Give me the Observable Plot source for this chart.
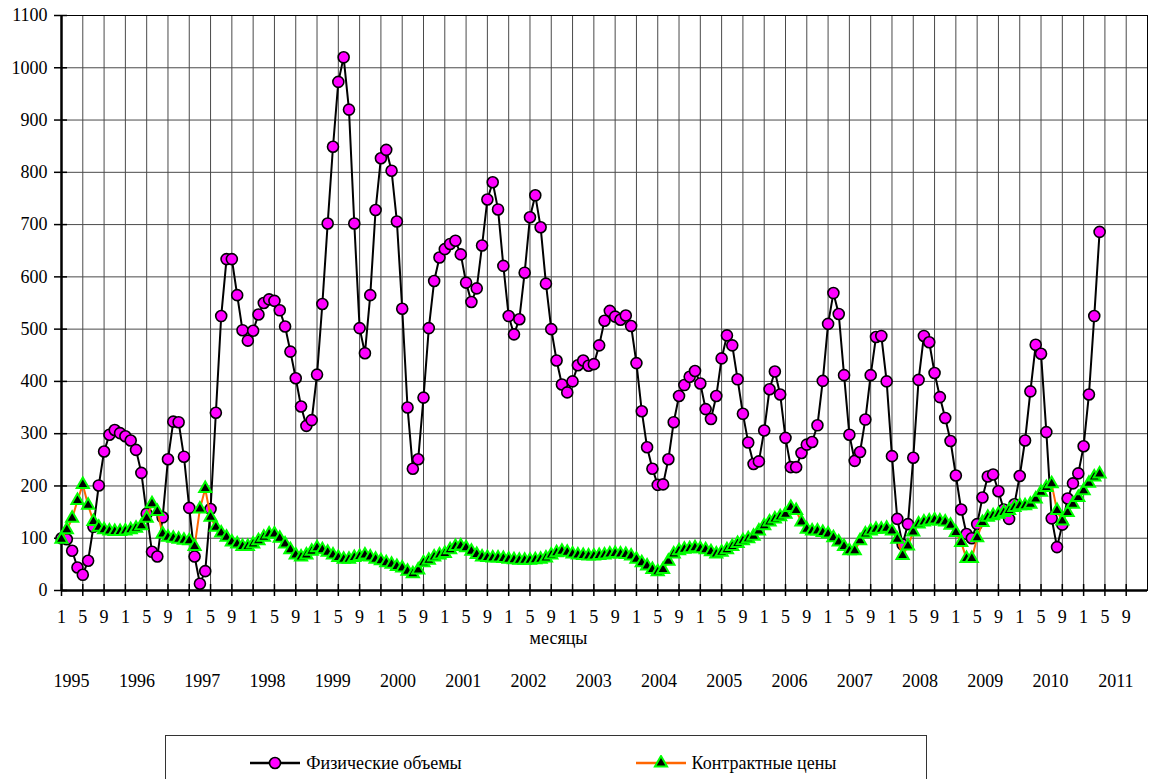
<!DOCTYPE html>
<html>
<head>
<meta charset="utf-8">
<script src="https://cdn.jsdelivr.net/npm/d3@7"></script>
<script src="https://cdn.jsdelivr.net/npm/@observablehq/plot@0.6"></script>
<style>
  html, body { margin: 0; padding: 0; background: #fff; }
  body { font-family: 'Liberation Serif'; width: 1151px; overflow: hidden; }
  #chart svg { display: block; }
  #chart svg text { font-family: 'Liberation Serif' !important; }
  .legend {
    position: absolute; left: 165px; top: 735px; width: 762px; height: 56px;
    border: 1px solid #333; box-sizing: border-box; display: flex; background: #fff;
  }
  .legend .item { flex: 1; display: flex; align-items: center; justify-content: center; height: 54px; font-size: 18px; color: #000; font-family: 'Liberation Serif'; }
  .legend .item svg { margin-right: 6px; }
</style>
</head>
<body>
<div id="chart"></div>
<div class="legend" id="legend"></div>
<script>
// ---- data (monthly, starting January 1995) ----
const startYear = 1995;
const seriesNames = ["Физические объемы", "Контрактные цены"];
const volumes = [
  100, 98, 76, 44, 30, 57, 122, 201, 266, 298, 307, 301,
  295, 287, 269, 225, 147, 74, 65, 140, 251, 323, 322, 256,
  158, 65, 13, 37, 156, 340, 525, 634, 634, 565, 498, 478,
  497, 528, 550, 557, 554, 536, 505, 457, 406, 352, 315, 326,
  413, 548, 702, 849, 973, 1020, 920, 702, 502, 454, 565, 728,
  827, 843, 803, 706, 539, 350, 233, 251, 369, 502, 592, 637,
  653, 663, 669, 643, 589, 552, 578, 660, 748, 781, 729, 621,
  525, 490, 519, 608, 714, 756, 695, 587, 500, 440, 394, 379,
  400, 431, 440, 430, 433, 469, 516, 535, 524, 518, 526, 506,
  435, 343, 274, 233, 202, 203, 251, 322, 372, 393, 409, 420,
  396, 347, 328, 372, 444, 488, 469, 404, 338, 283, 242, 247,
  306, 385, 419, 375, 292, 236, 236, 263, 279, 284, 316, 401,
  510, 569, 529, 412, 298, 248, 265, 327, 412, 485, 487, 400,
  257, 137, 88, 127, 254, 403, 487, 475, 416, 370, 330, 286,
  220, 155, 108, 100, 127, 178, 218, 222, 190, 155, 137, 165,
  219, 287, 381, 470, 453, 303, 138, 83, 126, 176, 205, 224,
  276, 375, 525, 686
];
const prices = [
  98, 116, 138, 172, 203, 163, 132, 121, 116, 114, 113, 113,
  114, 116, 119, 124, 138, 166, 151, 108, 102, 100, 98, 96,
  95, 84, 156, 195, 140, 121, 110, 102, 93, 89, 84, 84,
  89, 95, 102, 108, 108, 100, 89, 78, 68, 64, 68, 75,
  82, 78, 73, 68, 63, 60, 60, 63, 65, 68, 64, 60,
  57, 53, 50, 46, 43, 37, 32, 39, 53, 58, 64, 68,
  71, 78, 84, 85, 82, 75, 69, 64, 63, 62, 62, 61,
  60, 59, 58, 58, 58, 59, 60, 62, 68, 72, 75, 73,
  70, 68, 67, 66, 66, 67, 68, 70, 71, 70, 69, 66,
  60, 53, 47, 40, 36, 40, 56, 70, 76, 79, 80, 82,
  80, 78, 74, 70, 73, 78, 84, 90, 95, 99, 104, 114,
  124, 131, 137, 141, 146, 159, 153, 131, 117, 114, 114, 111,
  108, 101, 93, 84, 76, 76, 95, 108, 114, 117, 117, 119,
  114, 98, 67, 85, 112, 127, 131, 133, 135, 133, 131, 125,
  111, 92, 61, 61, 101, 130, 140, 143, 146, 149, 153, 159,
  162, 162, 165, 175, 188, 197, 204, 153, 133, 149, 165, 178,
  191, 205, 217, 223
];
const monthTickLabels = ["1", "5", "9"];
const yearLabels = d3.range(1995, 2012);
const axisTitle = "месяцы";

// ---- scaffolding ----
const rows = volumes.map((v, i) => ({m: i, v, p: prices[i]}));
const xTicks = d3.range(0, 201, 4);
const yTicks = d3.range(0, 1101, 100);
const font = "Liberation Serif";

const chart = Plot.plot({
  width: 1151,
  height: 730,
  marginLeft: 61,
  marginRight: 4,
  marginTop: 15,
  marginBottom: 140,
  style: {fontFamily: font, fontSize: "18px", color: "#000", background: "#fff", overflow: "visible"},
  x: {domain: [0, 204], label: null},
  y: {domain: [0, 1100], label: null},
  marks: [
    Plot.gridX(xTicks, {stroke: "#4a4a4a", strokeOpacity: 1, strokeWidth: 1}),
    Plot.gridY(yTicks, {stroke: "#4a4a4a", strokeOpacity: 1, strokeWidth: 1}),
    Plot.frame({stroke: "#000", strokeWidth: 1}),
    Plot.axisX(xTicks, {tickSize: 12, dy: -6, tickPadding: 14, strokeWidth: 1.5, label: null,
      tickFormat: d => monthTickLabels[(d / 4) % 3], fontSize: 18, fontFamily: font}),
    Plot.axisY(yTicks, {tickSize: 13, dx: 6, tickPadding: 7, strokeWidth: 1.5, label: null,
      tickFormat: d => String(d), fontSize: 18, fontFamily: font}),
    Plot.ruleX([0], {strokeWidth: 2.5, stroke: "#000"}),
    Plot.ruleY([0], {strokeWidth: 2.5, stroke: "#000"}),
    Plot.text([axisTitle], {frameAnchor: "bottom", dx: -46, dy: 53, fontSize: 18, fontFamily: font}),
    Plot.text(yearLabels, {x: d => (d - startYear) * 12.26 + 1.9, frameAnchor: "bottom", dy: 96, text: d => String(d), fontSize: 18, fontFamily: font}),
    Plot.line(rows, {x: "m", y: "v", stroke: "#000", strokeWidth: 2}),
    Plot.dot(rows, {x: "m", y: "v", r: 5.5, fill: "#ff00ff", stroke: "#000", strokeWidth: 1.6}),
    Plot.line(rows, {x: "m", y: "p", stroke: "#ff6600", strokeWidth: 2}),
    Plot.dot(rows, {x: "m", y: "p", symbol: "triangle", r: 4.5, fill: "#000", stroke: "#00ff00", strokeWidth: 2})
  ]
});
document.getElementById("chart").appendChild(chart);

// ---- legend ----
const legend = document.getElementById("legend");
const keySvgs = [
  `<svg width="50" height="16"><line x1="0" y1="8" x2="50" y2="8" stroke="#000" stroke-width="2.5"/><circle cx="25" cy="8" r="5.5" fill="#ff00ff" stroke="#000" stroke-width="1.6"/></svg>`,
  `<svg width="50" height="16"><line x1="0" y1="8" x2="50" y2="8" stroke="#ff6600" stroke-width="2.5"/><path d="${d3.symbol(d3.symbolTriangle, Math.PI * 4.5 * 4.5)()}" transform="translate(25,8)" fill="#000" stroke="#00ff00" stroke-width="2"/></svg>`
];
seriesNames.forEach((name, i) => {
  const item = document.createElement("div");
  item.className = "item";
  item.innerHTML = keySvgs[i] + `<span>${name}</span>`;
  legend.appendChild(item);
});
</script>
</body>
</html>
